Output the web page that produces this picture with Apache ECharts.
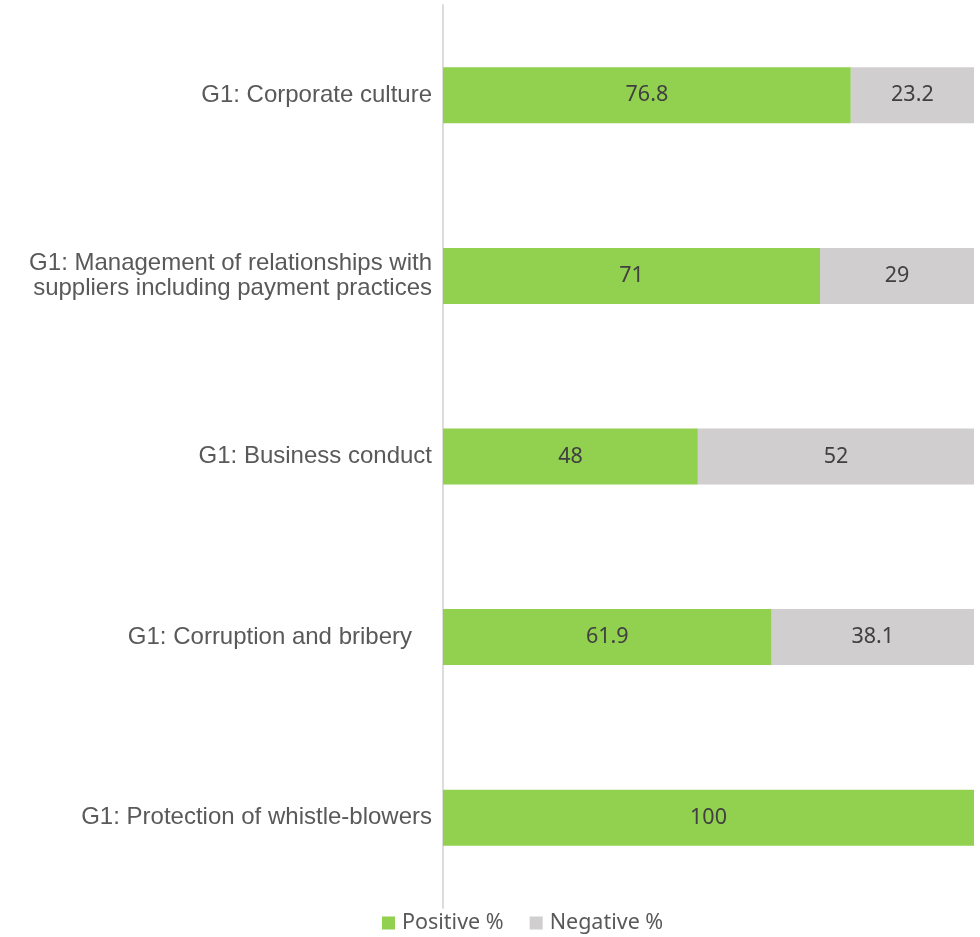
<!DOCTYPE html>
<html>
<head>
<meta charset="utf-8">
<script src="https://cdn.jsdelivr.net/npm/echarts@6/dist/echarts.min.js"></script>
<style>
  html, body { margin: 0; padding: 0; background: #ffffff; }
  #chart { width: 980px; height: 937px; }
</style>
</head>
<body>
<div id="chart"></div>
<script>
// Governance topics, listed top to bottom
const categories = [
  'G1: Corporate culture',
  'G1: Management of relationships with\nsuppliers including payment practices',
  'G1: Business conduct',
  'G1: Corruption and bribery   ',
  'G1: Protection of whistle-blowers'
];
// Share of positive and negative responses per topic (%)
const positivePct = [76.8, 71, 48, 61.9, 100];
const negativePct = [23.2, 29, 52, 38.1, 0];
const seriesNames = ['Positive %', 'Negative %'];

const chart = echarts.init(document.getElementById('chart'), null, { renderer: 'canvas' });

const valueLabel = {
  show: true,
  position: 'inside',
  color: '#404040',
  fontFamily: 'Noto Sans, Arial, sans-serif',
  fontSize: 21.5,
  formatter: p => (p.value ? String(p.value) : '')
};

chart.setOption({
  animation: false,
  backgroundColor: '#ffffff',
  grid: { left: 443, right: 6, top: 5, bottom: 29, containLabel: false },
  legend: {
    data: seriesNames,
    left: 382,
    top: 912,
    padding: 0,
    itemWidth: 13,
    itemHeight: 13,
    itemGap: 26,
    icon: 'rect',
    textStyle: {
      color: '#595959',
      fontFamily: 'Noto Sans, Arial, sans-serif',
      fontSize: 21.5,
      padding: [0, 0, 0, 2]
    }
  },
  xAxis: {
    type: 'value',
    min: 0,
    max: 100,
    show: false
  },
  yAxis: {
    type: 'category',
    data: categories,
    inverse: true,
    axisLine: { show: true, lineStyle: { color: '#dcdcdc', width: 2 } },
    axisTick: { show: false },
    splitLine: { show: false },
    axisLabel: {
      margin: 11,
      color: '#595959',
      fontFamily: 'Liberation Sans, Arial, sans-serif',
      fontSize: 24,
      lineHeight: 25,
      align: 'right'
    }
  },
  series: [
    {
      name: seriesNames[0],
      type: 'bar',
      stack: 'total',
      data: positivePct,
      barWidth: 56,
      itemStyle: { color: '#92d050' },
      label: valueLabel
    },
    {
      name: seriesNames[1],
      type: 'bar',
      stack: 'total',
      data: negativePct,
      barWidth: 56,
      itemStyle: { color: '#d0cece' },
      label: valueLabel
    }
  ]
});
</script>
</body>
</html>
